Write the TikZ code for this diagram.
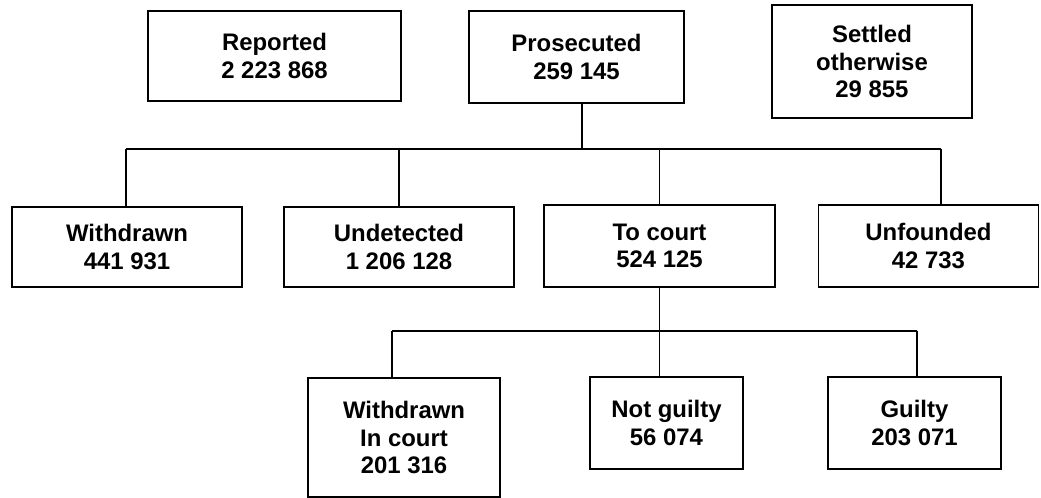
\documentclass[tikz,border=0pt]{standalone}
\usepackage{fontspec}
\setmainfont{Liberation Sans}
\usepackage{tikz}

\tikzset{
  box/.style={draw, line width=1.3pt, align=center, inner sep=2pt,
    font=\fontsize{17}{19.5}\selectfont\bfseries},
  link/.style={line width=1.3pt}
}

\begin{document}
\begin{tikzpicture}[x=0.025cm, y=-0.025cm]
    \useasboundingbox (0,0) rectangle (1041,498); % page size like the source

    % top row
    \node[box, minimum width=6.325cm, minimum height=2.25cm] (rep) at (274.5,56) {Reported\\2 223 868};
    \node[box, minimum width=5.375cm, minimum height=2.3cm] (pros) at (576.5,57) {Prosecuted\\259 145};
    \node[box, minimum width=5cm, minimum height=2.825cm] (settled) at (872,61.5) {Settled\\otherwise\\29 855};

    % middle row
    \node[box, minimum width=5.75cm, minimum height=2cm] (wd) at (127,247) {Withdrawn\\441 931};
    \node[box, minimum width=5.75cm, minimum height=2cm] (undet) at (399,247) {Undetected\\1 206 128};
    \node[box, minimum width=5.775cm, minimum height=2.05cm] (court) at (659.5,246) {To court\\524 125};
    \node[box, minimum width=5.5cm, minimum height=2.05cm] (unf) at (928.5,246) {Unfounded\\42 733};

    % bottom row
    \node[box, minimum width=4.8cm, minimum height=2.975cm] (wdcourt) at (404,437.5) {Withdrawn\\In court\\201 316};
    \node[box, minimum width=3.825cm, minimum height=2.3cm] (notg) at (666.5,423) {Not guilty\\56 074};
    \node[box, minimum width=4.325cm, minimum height=2.3cm] (guilty) at (914.5,423) {Guilty\\203 071};

    % first branching
    \coordinate (busP) at (582,149);
    \coordinate (busL) at (126,149);
    \coordinate (busR) at (941,149);
    \draw[link] (busP |- pros.south) -- (busP);
    \draw[link] (busL) -- (busR);
    \draw[link] (busL) -- (busL |- wd.north);
    \draw[link] (undet.north) -- (undet.north |- busL);
    \draw[link] (court.north) -- (court.north |- busL);
    \draw[link] (busR) -- (busR |- unf.north);

    % court branching
    \coordinate (cbusL) at (392,331);
    \coordinate (cbusR) at (917,331);
    \draw[link] (cbusL) -- (cbusR);
    \draw[link] (court.south) -- (court.south |- notg.north);
    \draw[link] (cbusL) -- (cbusL |- wdcourt.north);
    \draw[link] (cbusR) -- (cbusR |- guilty.north);
\end{tikzpicture}
\end{document}
